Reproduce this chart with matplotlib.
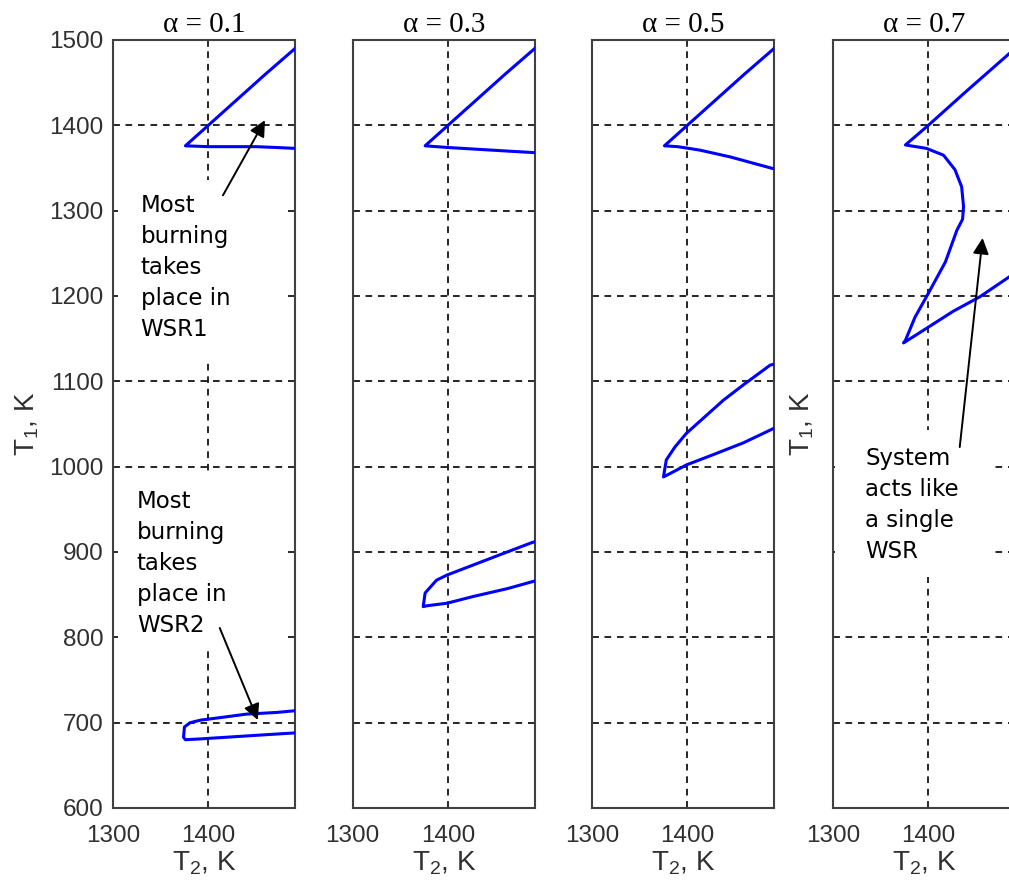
import matplotlib
matplotlib.use("Agg")
import matplotlib.pyplot as plt
from matplotlib.patches import Rectangle

# Data: T2 (x) and T1 (y) in K, one curve per branch
alphas = [0.1, 0.3, 0.5, 0.7]

# alpha = 0.1
a1_hi_t2 = [1491, 1460, 1430, 1400, 1376, 1400, 1450, 1472, 1491]
a1_hi_t1 = [1490, 1460, 1430, 1400, 1376, 1375, 1375, 1374, 1373]
a1_lo_t2 = [1491, 1472, 1440, 1413, 1392, 1381, 1375, 1374, 1376, 1392, 1420, 1462, 1491]
a1_lo_t1 = [714, 712, 710, 706, 703, 700, 695, 683, 680, 681, 683, 686, 688]

# alpha = 0.3
a3_hi_t2 = [1491, 1460, 1430, 1400, 1376, 1400, 1430, 1460, 1491]
a3_hi_t1 = [1490, 1460, 1430, 1400, 1376, 1374, 1372, 1370, 1368]
a3_lo_t2 = [1491, 1488, 1455, 1427, 1399, 1388, 1376, 1374, 1378, 1399, 1427, 1462, 1491]
a3_lo_t1 = [912, 911, 897, 885, 873, 867, 852, 836, 837, 840, 848, 857, 866]

# alpha = 0.5
a5_hi_t2 = [1491, 1460, 1430, 1400, 1376, 1390, 1413, 1445, 1491]
a5_hi_t1 = [1490, 1460, 1430, 1400, 1376, 1375, 1371, 1363, 1349]
a5_lo_t2 = [1491, 1487, 1459, 1438, 1417, 1399, 1387, 1378, 1375, 1382, 1399, 1427, 1459, 1491]
a5_lo_t1 = [1120, 1119, 1096, 1078, 1057, 1039, 1023, 1008, 988, 992, 1002, 1014, 1028, 1045]

# alpha = 0.7
a7_t2 = [1491, 1440, 1400, 1376, 1398, 1416, 1428, 1435, 1437, 1436, 1430, 1418,
         1400, 1386, 1376, 1374, 1398, 1426, 1454, 1491]
a7_t1 = [1490, 1440, 1400, 1377, 1373, 1365, 1348, 1328, 1305, 1290, 1277, 1240,
         1203, 1175, 1148, 1145, 1162, 1182, 1199, 1227]

curves = [
    [(a1_hi_t2, a1_hi_t1), (a1_lo_t2, a1_lo_t1)],
    [(a3_hi_t2, a3_hi_t1), (a3_lo_t2, a3_lo_t1)],
    [(a5_hi_t2, a5_hi_t1), (a5_lo_t2, a5_lo_t1)],
    [(a7_t2, a7_t1)],
]

x_ticks = [1300, 1400]
y_ticks = [600, 700, 800, 900, 1000, 1100, 1200, 1300, 1400, 1500]

plt.rcParams['font.family'] = ['Liberation Sans', 'DejaVu Sans']
plt.rcParams['mathtext.default'] = 'regular'

W, H = 1009, 888
fig = plt.figure(figsize=(W / 100, H / 100), dpi=100)
lefts = [113, 352.7, 592, 833]
axes = []
for i, left in enumerate(lefts):
    ax = fig.add_axes([left / W, 80 / H, 182 / W, 768 / H])
    axes.append(ax)
    ax.set_axisbelow(True)
    for branch_x, branch_y in curves[i]:
        ax.plot(branch_x, branch_y, color='#0000ff', lw=2.2, zorder=3)
    ax.set_xlim(1300, 1491)
    ax.set_ylim(600, 1500)
    ax.set_xticks(x_ticks)
    ax.set_yticks(y_ticks)
    ax.grid(True, color='black', linestyle=(0, (4, 3.5)), linewidth=1.2)
    ax.tick_params(direction='in', length=5, width=1.2, top=True, right=True,
                   labelsize=17.5, colors='#303030')
    ax.tick_params(axis='x', pad=12)
    ax.tick_params(axis='y', pad=7)
    for sp in ax.spines.values():
        sp.set_color('#404040')
        sp.set_linewidth(1.5)
    ax.set_xlabel('T$_2$, K', fontsize=20, color='#303030', labelpad=2)
    ax.set_title('α = %.1f' % alphas[i], fontsize=21, pad=6,
                 family=['Liberation Serif', 'DejaVu Serif'])
    if i > 0:
        ax.set_yticklabels([])

axes[0].set_ylabel('T$_1$, K', fontsize=20, color='#303030', labelpad=6)
axes[3].set_ylabel('T$_1$, K', fontsize=20, color='#303030', labelpad=5)

note_font = dict(fontsize=16.5, family='DejaVu Sans', va='top', ha='left',
                 linespacing=1.45, zorder=4)
arrow = dict(arrowstyle='-|>', color='black', lw=1.4, mutation_scale=24,
             shrinkA=0, shrinkB=0)

# white patches behind the notes hide the grid
ax = axes[0]
ax.add_patch(Rectangle((0.028, 0.583), 0.933, 0.235, transform=ax.transAxes,
                       facecolor='white', edgecolor='none', zorder=1))
ax.add_patch(Rectangle((0.028, 0.206), 0.933, 0.230, transform=ax.transAxes,
                       facecolor='white', edgecolor='none', zorder=1))
ax.text(1329, 1320, 'Most\nburning\ntakes\nplace in\nWSR1', **note_font)
ax.annotate('', xy=(1459.5, 1406), xytext=(1415.4, 1318), arrowprops=arrow, zorder=4)
ax.text(1325, 973, 'Most\nburning\ntakes\nplace in\nWSR2', **note_font)
ax.annotate('', xy=(1452, 703), xytext=(1412, 811), arrowprops=arrow, zorder=4)

ax = axes[3]
ax.add_patch(Rectangle((0.011, 0.301), 0.868, 0.191, transform=ax.transAxes,
                       facecolor='white', edgecolor='none', zorder=1))
ax.text(1333.6, 1023, 'System\nacts like\na single\nWSR', **note_font)
ax.annotate('', xy=(1457, 1268), xytext=(1433, 1023), arrowprops=arrow, zorder=4)

fig.savefig('out.png', dpi=100)
